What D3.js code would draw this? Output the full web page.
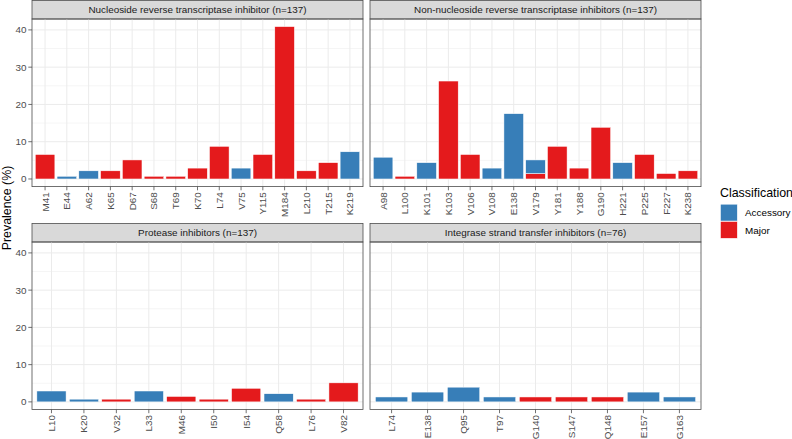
<!DOCTYPE html>
<html lang="en">
<head>
<meta charset="UTF-8">
<title>Prevalence by drug class</title>
<script src="https://cdnjs.cloudflare.com/ajax/libs/d3/7.8.5/d3.min.js"></script>
<style>
    body { margin: 0; background: #fff; }
    svg text { font-family: "Liberation Sans", Arial, sans-serif; }
</style>
</head>
<body>
<script>

    // facet titles
    var facetTitles = [
        "Nucleoside reverse transcriptase inhibitor (n=137)",
        "Non-nucleoside reverse transcriptase inhibitors (n=137)",
        "Protease inhibitors (n=137)",
        "Integrase strand transfer inhibitors (n=76)"
    ];

    // NRTI
    var nrtiSites = ["M41", "E44", "A62", "K65", "D67", "S68", "T69", "K70", "L74", "V75", "Y115", "M184", "L210", "T215", "K219"];
    var nrtiAccessory = [0, 0.73, 2.19, 0, 0, 0, 0, 0, 0, 2.92, 0, 0, 0, 0, 7.30];
    var nrtiMajor = [6.57, 0, 0, 2.19, 5.11, 0.73, 0.73, 2.92, 8.76, 0, 6.57, 40.88, 2.19, 4.38, 0];

    // NNRTI
    var nnrtiSites = ["A98", "L100", "K101", "K103", "V106", "V108", "E138", "V179", "Y181", "Y188", "G190", "H221", "P225", "F227", "K238"];
    var nnrtiAccessory = [5.84, 0, 4.38, 0, 0, 2.92, 17.52, 3.65, 0, 0, 0, 4.38, 0, 0, 0];
    var nnrtiMajor = [0, 0.73, 0, 26.28, 6.57, 0, 0, 1.46, 8.76, 2.92, 13.87, 0, 6.57, 1.46, 2.19];

    // PI
    var piSites = ["L10", "K20", "V32", "L33", "M46", "I50", "I54", "Q58", "L76", "V82"];
    var piAccessory = [2.92, 0.73, 0, 2.92, 0, 0, 0, 2.19, 0, 0];
    var piMajor = [0, 0, 0.73, 0, 1.46, 0.73, 3.65, 0, 0.73, 5.11];

    // INSTI
    var instiSites = ["L74", "E138", "Q95", "T97", "G140", "S147", "Q148", "E157", "G163"];
    var instiAccessory = [1.32, 2.63, 3.95, 1.32, 0, 0, 0, 2.63, 1.32];
    var instiMajor = [0, 0, 0, 0, 1.32, 1.32, 1.32, 0, 0];

    var yTicks = [0, 10, 20, 30, 40];
    var yMinor = [5, 15, 25, 35];
    var classes = ["Accessory", "Major"];
    var colors = { Accessory: "#377EB8", Major: "#E41A1C" };

    var width = 792;
    var height = 439;
    var smallFont = "9.9px";
    var titleFont = "12.4px";
    var lineCol = "#4d4d4d";

    var svg = d3.select("body").append("svg")
        .attr("width", width)
        .attr("height", height);

    var facets = [
        { title: facetTitles[0], sites: nrtiSites, acc: nrtiAccessory, maj: nrtiMajor },
        { title: facetTitles[1], sites: nnrtiSites, acc: nnrtiAccessory, maj: nnrtiMajor },
        { title: facetTitles[2], sites: piSites, acc: piAccessory, maj: piMajor },
        { title: facetTitles[3], sites: instiSites, acc: instiAccessory, maj: instiMajor }
    ];

    // panel layout
    var colX = [[32, 363], [370, 701]];
    var rowY = [[19, 186.6], [242, 409.5]];
    var stripH = 18.6;

    var yMax = d3.max(facets, function (f) {
        return d3.max(f.sites, function (s, i) { return f.acc[i] + f.maj[i]; });
    });

    facets.forEach(function (f, k) {
        var cx = colX[k % 2];
        var ry = rowY[Math.floor(k / 2)];

        // discrete scale with 0.6 units of padding each side (ggplot style)
        var x = d3.scalePoint()
            .domain(f.sites)
            .range(cx)
            .padding(0.6);
        var step = x.step();
        var center = function (s) { return x(s); };

        var y = d3.scaleLinear()
            .domain([-0.05 * yMax, yMax * 1.05])
            .range([ry[1], ry[0]]);

        var g = svg.append("g");

        // strip
        g.append("rect")
            .attr("x", cx[0]).attr("y", ry[0] - stripH)
            .attr("width", cx[1] - cx[0]).attr("height", stripH)
            .attr("fill", "#D9D9D9")
            .attr("stroke", lineCol).attr("stroke-width", 0.8);
        g.append("text")
            .attr("x", (cx[0] + cx[1]) / 2)
            .attr("y", ry[0] - stripH / 2 + 3.6)
            .attr("text-anchor", "middle")
            .attr("font-size", smallFont)
            .attr("fill", "#1A1A1A")
            .text(f.title);

        // grid
        g.selectAll(".minor").data(yMinor).enter().append("line")
            .attr("x1", cx[0]).attr("x2", cx[1])
            .attr("y1", function (d) { return y(d); })
            .attr("y2", function (d) { return y(d); })
            .attr("stroke", "#EBEBEB").attr("stroke-width", 0.5);
        g.selectAll(".major").data(yTicks).enter().append("line")
            .attr("x1", cx[0]).attr("x2", cx[1])
            .attr("y1", function (d) { return y(d); })
            .attr("y2", function (d) { return y(d); })
            .attr("stroke", "#EBEBEB").attr("stroke-width", 1);
        g.selectAll(".vgrid").data(f.sites).enter().append("line")
            .attr("x1", center).attr("x2", center)
            .attr("y1", ry[0]).attr("y2", ry[1])
            .attr("stroke", "#EBEBEB").attr("stroke-width", 1);

        // bars: Major at bottom, Accessory stacked on top
        var bw = step * 0.9;
        f.sites.forEach(function (s, i) {
            var base = 0;
            [["Major", f.maj[i]], ["Accessory", f.acc[i]]].forEach(function (p) {
                if (p[1] <= 0) return;
                g.append("rect")
                    .attr("x", center(s) - bw / 2)
                    .attr("width", bw)
                    .attr("y", y(base + p[1]))
                    .attr("height", y(base) - y(base + p[1]))
                    .attr("fill", colors[p[0]])
                    .attr("stroke", "#FFFFFF")
                    .attr("stroke-width", 0.5);
                base += p[1];
            });
        });

        // border
        g.append("rect")
            .attr("x", cx[0]).attr("y", ry[0])
            .attr("width", cx[1] - cx[0]).attr("height", ry[1] - ry[0])
            .attr("fill", "none")
            .attr("stroke", lineCol).attr("stroke-width", 0.8);

        // x axis ticks + labels
        g.selectAll(".xt").data(f.sites).enter().append("line")
            .attr("x1", center).attr("x2", center)
            .attr("y1", ry[1]).attr("y2", ry[1] + 3.7)
            .attr("stroke", lineCol).attr("stroke-width", 0.8);
        g.selectAll(".xl").data(f.sites).enter().append("text")
            .attr("transform", function (d) {
                return "translate(" + (center(d) + 3.5) + "," + (ry[1] + 5.6) + ") rotate(-90)";
            })
            .attr("text-anchor", "end")
            .attr("font-size", smallFont)
            .attr("fill", "#4D4D4D")
            .text(function (d) { return d; });

        // y axis only on left column
        if (k % 2 === 0) {
            g.selectAll(".yt").data(yTicks).enter().append("line")
                .attr("x1", cx[0] - 3.7).attr("x2", cx[0])
                .attr("y1", function (d) { return y(d); })
                .attr("y2", function (d) { return y(d); })
                .attr("stroke", lineCol).attr("stroke-width", 0.8);
            g.selectAll(".yl").data(yTicks).enter().append("text")
                .attr("x", cx[0] - 5.6)
                .attr("y", function (d) { return y(d) + 3.5; })
                .attr("text-anchor", "end")
                .attr("font-size", smallFont)
                .attr("fill", "#4D4D4D")
                .text(function (d) { return d; });
        }
    });

    // y axis title
    svg.append("text")
        .attr("transform", "translate(11," + 208 + ") rotate(-90)")
        .attr("text-anchor", "middle")
        .attr("font-size", titleFont)
        .attr("fill", "#000")
        .text("Prevalence (%)");

    // legend
    var legend = svg.append("g").attr("transform", "translate(720,186)");
    legend.append("text")
        .attr("x", 0).attr("y", 11)
        .attr("font-size", titleFont)
        .attr("fill", "#000")
        .text("Classification");
    classes.forEach(function (c, i) {
        legend.append("rect")
            .attr("x", 0.5).attr("y", 18.2 + i * 17.3)
            .attr("width", 16.8).attr("height", 16.8)
            .attr("fill", colors[c])
            .attr("stroke", "#FFFFFF").attr("stroke-width", 0.5);
        legend.append("text")
            .attr("x", 25).attr("y", 18.2 + i * 17.3 + 12)
            .attr("font-size", smallFont)
            .attr("fill", "#000")
            .text(c);
    });

</script>
</body>
</html>
